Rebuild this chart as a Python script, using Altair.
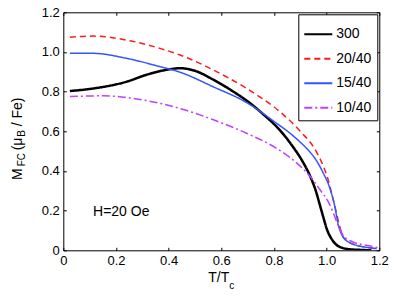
import altair as alt
import pandas as pd

# ---------------- data ----------------
series_names = ["300", "20/40", "15/40", "10/40"]
series_colors = ["#000000", "#ff1a1a", "#3355ff", "#c040ff"]
series_dash = [[1, 0], [6, 4], [1, 0], [8, 3, 2, 3]]

t_300 = [0.025, 0.114, 0.24, 0.316, 0.392, 0.443, 0.5, 0.57, 0.64, 0.709, 0.76, 0.823,
         0.873, 0.91, 0.937, 0.96, 0.975, 0.99, 1.0, 1.02, 1.038, 1.06, 1.089, 1.13, 1.17]
m_300 = [0.803, 0.816, 0.85, 0.885, 0.91, 0.918, 0.905, 0.86, 0.805, 0.742, 0.685, 0.605,
         0.52, 0.445, 0.375, 0.295, 0.225, 0.155, 0.11, 0.055, 0.027, 0.012, 0.005, 0.002, 0.0]

t_2040 = [0.025, 0.114, 0.24, 0.367, 0.443, 0.475, 0.57, 0.696, 0.823, 0.9, 0.962, 0.987,
          1.006, 1.019, 1.032, 1.044, 1.063, 1.085, 1.114, 1.15, 1.19]
m_2040 = [1.074, 1.08, 1.06, 1.018, 0.985, 0.968, 0.909, 0.816, 0.698, 0.60, 0.495, 0.425,
          0.355, 0.288, 0.218, 0.151, 0.067, 0.04, 0.025, 0.015, 0.008]

t_1540 = [0.025, 0.114, 0.24, 0.367, 0.443, 0.57, 0.70, 0.80, 0.861, 0.90, 0.937, 0.96,
          0.987, 1.013, 1.032, 1.044, 1.057, 1.07, 1.09, 1.114, 1.164, 1.19]
m_1540 = [0.993, 0.993, 0.968, 0.926, 0.898, 0.824, 0.742, 0.65, 0.59, 0.545, 0.495, 0.455,
          0.39, 0.31, 0.215, 0.13, 0.08, 0.055, 0.037, 0.025, 0.013, 0.008]

t_1040 = [0.025, 0.152, 0.279, 0.367, 0.443, 0.57, 0.696, 0.81, 0.861, 0.911, 0.937, 0.975,
          1.006, 1.025, 1.044, 1.063, 1.10, 1.152, 1.196]
m_1040 = [0.775, 0.779, 0.763, 0.741, 0.715, 0.658, 0.59, 0.514, 0.468, 0.41, 0.373, 0.305,
          0.245, 0.19, 0.125, 0.075, 0.042, 0.025, 0.013]

x_ticks = [0, 0.2, 0.4, 0.6, 0.8, 1.0, 1.2]
y_ticks = [0, 0.2, 0.4, 0.6, 0.8, 1.0, 1.2]

annotation = "H=20 Oe"
annotation_pos = [0.113, 0.172]

# y-title pieces: text, font size, baseline x (px), start y (px)
ytitle_pieces = [("M", 14, -41.6, 167.7), ("FC", 10, -38.6, 154.0),
                 ("(\u03bc", 14, -41.6, 138.0), ("B", 10, -38.6, 124.5),
                 ("/ Fe)", 14, -41.6, 114.0)]
# x-title pieces: text, font size, left x (px), baseline y (px)
xtitle_pieces = [("T/T", 14, 145.0, 269.4), ("c", 10, 166.0, 276.7)]

FONT = "Liberation Sans"

rows = []
for name, ts, ms in zip(series_names, [t_300, t_2040, t_1540, t_1040],
                        [m_300, m_2040, m_1540, m_1040]):
    for t, m in zip(ts, ms):
        rows.append({"series": name, "T": t, "M": m})
df = pd.DataFrame(rows)

label_expr = "datum.value == 0 ? '0' : format(datum.value, '.1f')"
xscale = alt.Scale(domain=[0, 1.2], nice=False, zero=False)
yscale = alt.Scale(domain=[0, 1.2], nice=False, zero=False)

leg = alt.Legend(title=None)

lines = alt.Chart(df).mark_line(interpolate="monotone", clip=True).encode(
    x=alt.X("T:Q", scale=xscale, axis=alt.Axis(
        orient="bottom", values=x_ticks, labelExpr=label_expr, domain=False, grid=False,
        tickSize=3, offset=-3, labelPadding=4, labelFlush=False, title=None)),
    y=alt.Y("M:Q", scale=yscale, axis=alt.Axis(
        orient="left", values=y_ticks, labelExpr=label_expr, domain=False, grid=False,
        tickSize=3, offset=-3, labelPadding=4, labelFlush=False, title=None)),
    color=alt.Color("series:N", scale=alt.Scale(domain=series_names, range=series_colors), legend=leg),
    strokeDash=alt.StrokeDash("series:N", scale=alt.Scale(domain=series_names, range=series_dash), legend=leg),
    strokeWidth=alt.condition("datum.series == '300'", alt.value(2.5), alt.value(1.5)),
    order=alt.Order("T:Q"),
)

mirror = alt.Chart(df).mark_point(opacity=0).encode(
    x=alt.X("T:Q", scale=xscale, axis=alt.Axis(
        orient="top", values=x_ticks, labels=False, domain=False, grid=False,
        tickSize=3, offset=-3, title=None)),
    y=alt.Y("M:Q", scale=yscale, axis=alt.Axis(
        orient="right", values=y_ticks, labels=False, domain=False, grid=False,
        tickSize=3, offset=-3, title=None)),
)

layers = [lines, mirror]

ann_df = pd.DataFrame({"x": [annotation_pos[0]], "y": [annotation_pos[1]], "label": [annotation]})
layers.append(alt.Chart(ann_df).mark_text(
    align="left", baseline="alphabetic", font=FONT, fontSize=14, color="black").encode(
    x=alt.X("x:Q", scale=xscale, axis=None), y=alt.Y("y:Q", scale=yscale, axis=None),
    text="label:N"))

for txt, fs, px, py in ytitle_pieces:
    layers.append(alt.Chart(pd.DataFrame({"label": [txt]})).mark_text(
        align="left", baseline="alphabetic", angle=270, font=FONT, fontSize=fs,
        color="black").encode(x=alt.value(px), y=alt.value(py), text="label:N"))

for txt, fs, px, py in xtitle_pieces:
    layers.append(alt.Chart(pd.DataFrame({"label": [txt]})).mark_text(
        align="left", baseline="alphabetic", font=FONT, fontSize=fs,
        color="black").encode(x=alt.value(px), y=alt.value(py), text="label:N"))

chart = alt.layer(*layers).resolve_axis(x="independent", y="independent").properties(
    width=316, height=238,
    autosize=alt.AutoSizeParams(type="none"),
    padding={"left": 55.3, "top": 4.3, "right": 20, "bottom": 50},
).configure_view(stroke="black", strokeWidth=1).configure_axis(
    labelFont=FONT, labelFontSize=13, labelColor="black", tickColor="black", tickWidth=1
).configure_legend(
    orient="top-right", offset=2, padding=5, strokeColor="black", fillColor="white",
    labelFont=FONT, labelFontSize=14, labelColor="black", symbolType="stroke",
    symbolSize=784, symbolStrokeWidth=2, labelOffset=3, rowPadding=2.5, cornerRadius=0,
)

chart.save("out.html", embed_options={"renderer": "svg", "actions": False})
